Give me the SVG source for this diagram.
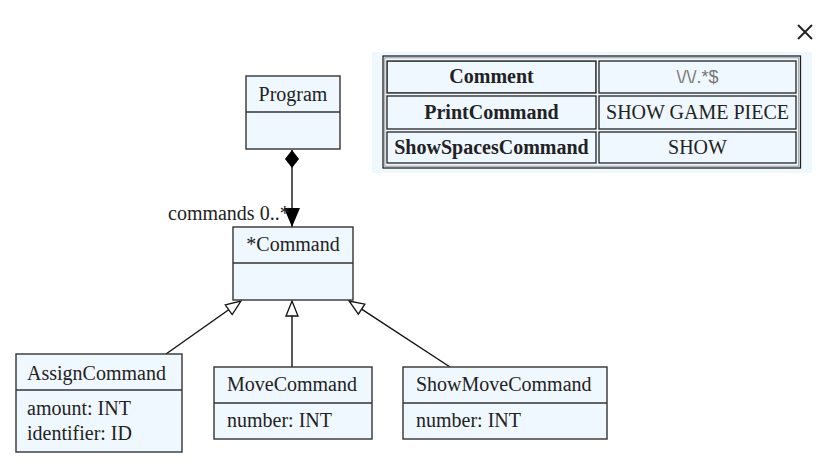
<svg xmlns="http://www.w3.org/2000/svg" width="825" height="466" viewBox="0 0 825 466">
<style>
.box{fill:#f0f8ff;stroke:#333;stroke-width:1.4}
.div{stroke:#333;stroke-width:1.4}
.t{font-family:"Liberation Serif","Times New Roman",serif;font-size:20px;fill:#222}
.c{text-anchor:middle}
.b{font-weight:bold}
.edge{stroke:#111;stroke-width:1.4;fill:none}
.cell{fill:none;stroke:#222;stroke-width:1.3}
.cellg{fill:none;stroke:#999;stroke-width:1}
</style>
<defs>
<marker id="diamond" markerUnits="userSpaceOnUse" markerWidth="20" markerHeight="16" viewBox="0 -8 20 16" refX="0" refY="0" orient="auto">
<path d="M0,0 L9,-7 L18,0 L9,7 Z" fill="#000"/>
</marker>
<marker id="arrow" markerUnits="userSpaceOnUse" markerWidth="20" markerHeight="18" viewBox="-20 -9 20 18" refX="0" refY="0" orient="auto">
<path d="M-19,-8 L0,0 L-19,8 Z" fill="#000"/>
</marker>
<marker id="tri" markerUnits="userSpaceOnUse" markerWidth="17" markerHeight="14" viewBox="-1 -7 17 14" refX="0" refY="0" orient="auto">
<path d="M0,-6 L15,0 L0,6 Z" fill="#fff" stroke="#111" stroke-width="1.3"/>
</marker>
</defs>
<rect width="825" height="466" fill="#fff"/>

<g id="connectors">
<line class="edge" x1="292" y1="150" x2="292" y2="227" marker-start="url(#diamond)" marker-end="url(#arrow)"/>
<text class="t" x="168" y="220">commands 0..*</text>
<line class="edge" x1="166" y1="354" x2="228.7" y2="309.7" marker-end="url(#tri)"/>
<line class="edge" x1="292" y1="367" x2="292" y2="316" marker-end="url(#tri)"/>
<line class="edge" x1="450" y1="367" x2="361.6" y2="309.2" marker-end="url(#tri)"/>
</g>

<g id="Program">
<rect class="box" x="246" y="76" width="94" height="73"/>
<line class="div" x1="246" y1="112" x2="340" y2="112"/>
<text class="t c" x="293" y="101">Program</text>
</g>

<g id="Command">
<rect class="box" x="233" y="227" width="120" height="73"/>
<line class="div" x1="233" y1="263" x2="353" y2="263"/>
<text class="t c" x="293" y="251">*Command</text>
</g>

<g id="AssignCommand">
<rect class="box" x="16" y="354" width="166" height="98"/>
<line class="div" x1="16" y1="390" x2="182" y2="390"/>
<text class="t" x="27" y="380">AssignCommand</text>
<text class="t" x="27" y="415">amount: INT</text>
<text class="t" x="27" y="440">identifier: ID</text>
</g>

<g id="MoveCommand">
<rect class="box" x="214" y="367" width="158" height="72"/>
<line class="div" x1="214" y1="403" x2="372" y2="403"/>
<text class="t" x="227" y="391">MoveCommand</text>
<text class="t" x="227" y="427">number: INT</text>
</g>

<g id="ShowMoveCommand">
<rect class="box" x="403" y="367" width="204" height="72"/>
<line class="div" x1="403" y1="403" x2="607" y2="403"/>
<text class="t" x="416" y="391">ShowMoveCommand</text>
<text class="t" x="416" y="427">number: INT</text>
</g>

<g id="legend">
<rect x="372" y="52" width="440" height="121" fill="#f0f8ff"/>
<rect class="cell" x="383" y="56" width="417.5" height="112"/>
<rect class="cellg" x="384.8" y="57.8" width="413.9" height="108.4"/>
<rect class="cellg" x="387.5" y="61.5" width="208" height="31"/>
<rect class="cell" x="387" y="61" width="209" height="32"/>
<rect class="cell" x="599" y="61" width="197" height="32"/>
<rect class="cell" x="387" y="96" width="209" height="33"/>
<rect class="cell" x="599" y="96" width="197" height="33"/>
<rect class="cell" x="387" y="132" width="209" height="31"/>
<rect class="cell" x="599" y="132" width="197" height="31"/>
<text class="t c b" x="491.5" y="83">Comment</text>
<text x="697.5" y="83" text-anchor="middle" font-family="Liberation Sans, Arial, sans-serif" font-size="18" fill="#777">\/\/.*$</text>
<text class="t c b" x="491.5" y="119">PrintCommand</text>
<text class="t c" x="697.5" y="119">SHOW GAME PIECE</text>
<text class="t c b" x="491.5" y="154">ShowSpacesCommand</text>
<text class="t c" x="697.5" y="154">SHOW</text>
</g>

<g id="close" stroke="#222" stroke-width="2">
<line x1="798" y1="25" x2="812" y2="39"/>
<line x1="812" y1="25" x2="798" y2="39"/>
</g>
</svg>
